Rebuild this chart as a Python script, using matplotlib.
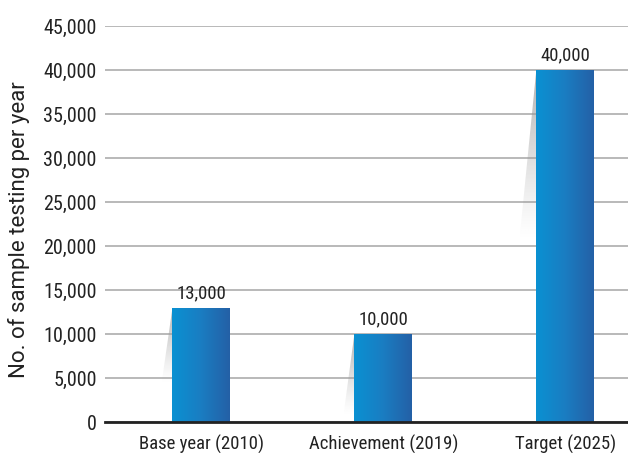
import numpy as np
import matplotlib
matplotlib.use("Agg")
from matplotlib import pyplot as plt
from matplotlib.patches import Polygon, Rectangle
from matplotlib.colors import LinearSegmentedColormap

categories = ["Base year (2010)", "Achievement (2019)", "Target (2025)"]
values = [13000, 10000, 40000]
yticks = [0, 5000, 10000, 15000, 20000, 25000, 30000, 35000, 40000, 45000]

# shadow wedge styling (bottom end in data units, left offset in x units)
shadow_bottom = [4400, 800, 20700]
shadow_shift = [0.06, 0.06, 0.093]

plt.rcParams['font.family'] = ['Roboto Condensed', 'Archivo Narrow', 'DejaVu Sans']

fig = plt.figure(figsize=(6.28, 4.53), dpi=100)
ax = fig.add_axes([105/628, 31/453, 523/628, 396/453])

x = np.arange(len(categories))
width = 0.318
cmap = LinearSegmentedColormap.from_list("bar", ["#0a91d2", "#1a7dc2", "#2460a6"])
grad = np.linspace(0, 1, 256).reshape(1, -1)

for xi, v, sb, ss in zip(x, values, shadow_bottom, shadow_shift):
    left = xi - width / 2
    # soft grey wedge on the left side of the bar
    shadow = Polygon([(left, v), (left - ss, sb), (left, sb)],
                     closed=True, facecolor="none", edgecolor="none")
    ax.add_patch(shadow)
    sh = np.zeros((64, 1, 4))
    sh[:, 0, :3] = 0.6
    sh[:, 0, 3] = np.linspace(0.0, 0.8, 64) ** 1.2
    im_s = ax.imshow(sh, extent=[left - ss, left, sb, v], aspect="auto",
                     origin="lower", zorder=1)
    im_s.set_clip_path(shadow)
    rect = Rectangle((left, 0), width, v, facecolor="none", edgecolor="none")
    ax.add_patch(rect)
    im = ax.imshow(grad, extent=[left, left + width, 0, v], aspect="auto",
                   cmap=cmap, zorder=2)
    im.set_clip_path(rect)
    ax.text(xi, v + 600, f"{v:,}", ha="center", va="bottom", fontsize=13.5, color="#222222", zorder=3)

ax.set_xlim(-0.53, 2.345)
ax.set_ylim(0, 45000)
ax.set_yticks(yticks)
ax.set_yticklabels([f"{t:,}" for t in yticks], fontsize=14.5, color="#222222")
ax.set_xticks(x)
ax.set_xticklabels(categories, fontsize=13.5, color="#222222")
ax.tick_params(axis="y", length=0, pad=6)
ax.tick_params(axis="x", length=0, pad=9)
ax.yaxis.grid(True, color="#b3b3b3", linewidth=1.3)
ax.set_axisbelow(True)
for s in ["top", "right", "left"]:
    ax.spines[s].set_visible(False)
ax.spines["bottom"].set_color("#222222")
ax.spines["bottom"].set_linewidth(2)
ax.spines["bottom"].set_zorder(5)

fig.text(19/628, 1 - 230/453, "No. of sample testing per year", rotation=90,
         ha="center", va="center", fontsize=16, color="#222222",
         family=['Roboto', 'DejaVu Sans'])

fig.savefig("out.png", dpi=100)
